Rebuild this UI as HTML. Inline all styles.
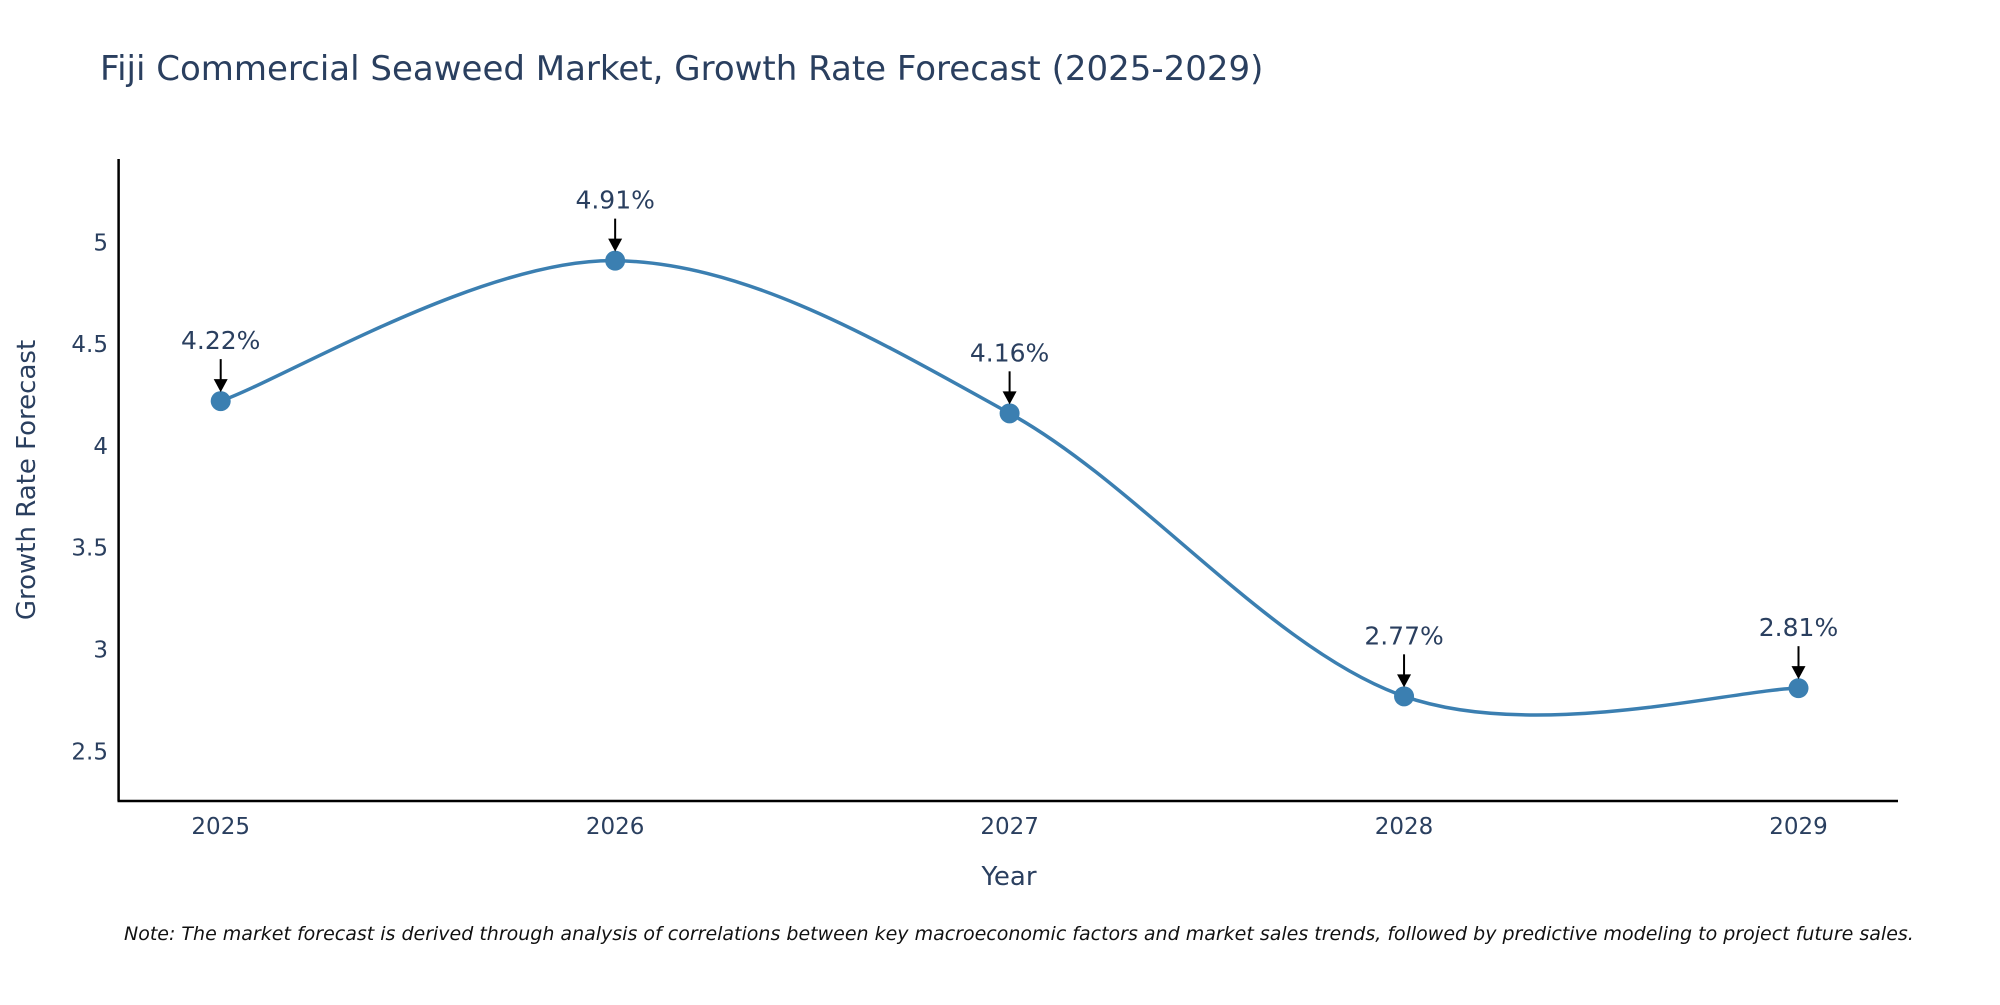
<!DOCTYPE html>
<html><head><meta charset="utf-8"><style>
body{margin:0;background:#fff;}
svg text{font-family:"DejaVu Sans","Liberation Sans",sans-serif;fill:#2a3f5f;}
</style></head><body>
<svg id="chart" width="2000" height="1000" xmlns="http://www.w3.org/2000/svg">
<rect width="2000" height="1000" fill="#fff"/>
<text x="100" y="80" font-size="34">Fiji Commercial Seaweed Market, Growth Rate Forecast (2025-2029)</text>
<g id="axes"></g>
<g id="plot"></g>
<text x="1009" y="885" font-size="26" text-anchor="middle">Year</text>
<text transform="translate(35,480) rotate(-90)" font-size="26" text-anchor="middle">Growth Rate Forecast</text>
<text x="124" y="940" font-size="19" font-style="italic" style="fill:#111">Note: The market forecast is derived through analysis of correlations between key macroeconomic factors and market sales trends, followed by predictive modeling to project future sales.</text>
</svg>
<script>
const categories=["2025","2026","2027","2028","2029"];
const values=[4.22,4.91,4.16,2.77,2.81];
const labels=["4.22%","4.91%","4.16%","2.77%","2.81%"];
const yTicks=[2.5,3,3.5,4,4.5,5];
const NS="http://www.w3.org/2000/svg";
const x0=220.7,dx=394.45;
function xs(i){return x0+i*dx;}
function ys(v){return 751.3-(v-2.5)*203.6;}
function mk(t,a,p){const e=document.createElementNS(NS,t);for(const k in a)e.setAttribute(k,a[k]);p.appendChild(e);return e;}
const axes=document.getElementById('axes'),plot=document.getElementById('plot');
let yl=mk('line',{x1:118.6,y1:159,x2:118.6,y2:801,stroke:'#000','stroke-width':2.5},axes);


let xl=mk('line',{x1:117.5,y1:801,x2:1898,y2:801,stroke:'#000','stroke-width':2.5},axes);


yTicks.forEach(v=>{const t=mk('text',{x:108,y:ys(v)+8,'font-size':23,'text-anchor':'end'},axes);t.textContent=String(v);

});
categories.forEach((c,i)=>{const t=mk('text',{x:xs(i),y:834,'font-size':23,'text-anchor':'middle'},axes);t.textContent=c;

});
const pts=values.map((v,i)=>[xs(i),ys(v)]);
let d=`M${pts[0][0]},${pts[0][1]}`;
for(let i=0;i<pts.length-1;i++){const p0=pts[Math.max(0,i-1)],p1=pts[i],p2=pts[i+1],p3=pts[Math.min(pts.length-1,i+2)];
const k=1/6;const c1=[p1[0]+(p2[0]-p0[0])*k,p1[1]+(p2[1]-p0[1])*k];const c2=[p2[0]-(p3[0]-p1[0])*k,p2[1]-(p3[1]-p1[1])*k];
d+=` C${c1[0]},${c1[1]} ${c2[0]},${c2[1]} ${p2[0]},${p2[1]}`;}
const line=mk('path',{d:d,fill:'none',stroke:'#3b7fb1','stroke-width':3.5},plot);


pts.forEach((p,i)=>{
const c=mk('circle',{cx:p[0],cy:p[1],r:10,fill:'#3b7fb1'},plot);


const a=mk('line',{x1:p[0],y1:p[1]-42,x2:p[0],y2:p[1]-12,stroke:'#000','stroke-width':2},plot);


const h=mk('path',{d:`M${p[0]-7},${p[1]-22} L${p[0]+7},${p[1]-22} L${p[0]},${p[1]-9} z`,fill:'#000'},plot);


const t=mk('text',{x:p[0],y:p[1]-52,'font-size':25,'text-anchor':'middle'},plot);t.textContent=labels[i];


});
</script>
</body></html>
